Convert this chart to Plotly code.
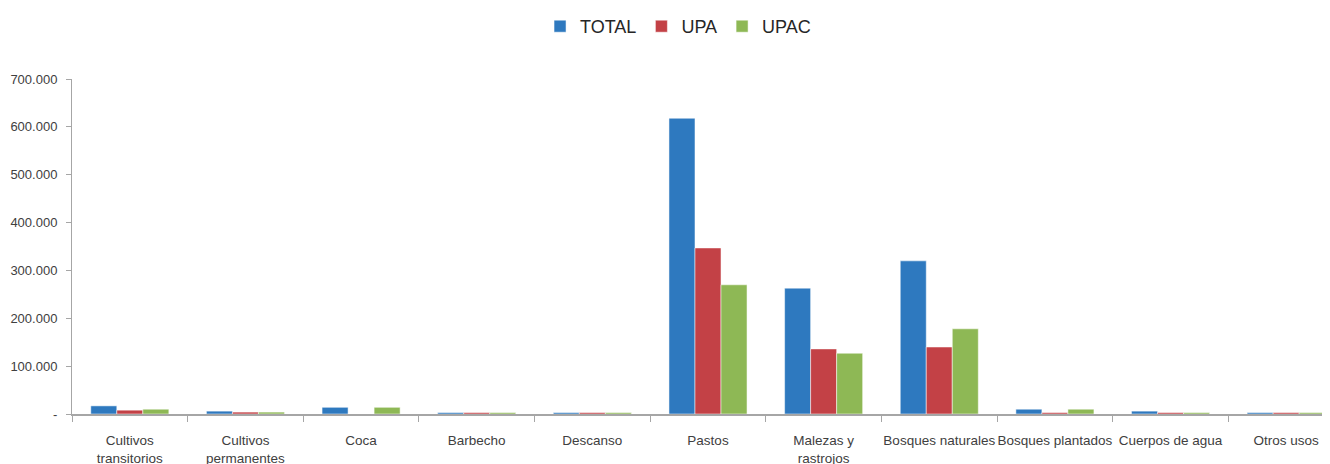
import plotly.graph_objects as go

categorias = ['Cultivos<br>transitorios', 'Cultivos<br>permanentes', 'Coca', 'Barbecho', 'Descanso',
              'Pastos', 'Malezas y<br>rastrojos', 'Bosques naturales', 'Bosques plantados',
              'Cuerpos de agua', 'Otros usos']
total = [17000, 6000, 14000, 3000, 3000, 618000, 263000, 320000, 10000, 6000, 3000]
upa = [8000, 4000, 0, 3000, 3000, 347000, 136000, 140000, 3000, 3000, 3000]
upac = [10000, 4000, 14000, 3000, 3000, 270000, 127000, 178000, 10000, 3000, 3000]
ytick_vals = [0, 100000, 200000, 300000, 400000, 500000, 600000, 700000]
ytick_text = ['-', '100.000', '200.000', '300.000', '400.000', '500.000', '600.000', '700.000']

series = [('TOTAL', total, '#2e79bf'), ('UPA', upa, '#c34146'), ('UPAC', upac, '#8eb855')]

fig = go.Figure()
for name, vals, color in series:
    fig.add_trace(go.Bar(x=categorias, y=vals, name=name, marker_color=color,
                         marker_line=dict(color='rgba(255,255,255,0.5)', width=1)))

# plot area runs a little past the right edge of the window, as in the original (cropped) image
fig.update_layout(
    width=1346, height=464, plot_bgcolor='white', paper_bgcolor='white',
    barmode='group', bargap=0.325, bargroupgap=0,
    margin=dict(l=64, r=10, t=71, b=58),
    font=dict(family='Liberation Sans, Arial', color='#404040'),
    legend=dict(orientation='h', xref='container', yref='container', x=0.4978, y=1.0,
                xanchor='center', yanchor='top', font=dict(size=18, color='#262626'),
                itemwidth=30, traceorder='normal'),
)
fig.update_xaxes(showgrid=False, showline=True, linecolor='#a6a6a6', linewidth=2,
                 ticks='outside', tickson='boundaries', ticklen=6, tickcolor='#a6a6a6',
                 tickfont=dict(size=13.5), tickangle=0, automargin=False, ticklabelstandoff=13)
fig.update_yaxes(range=[0, 700000], showgrid=False, showline=True, linecolor='#a6a6a6', linewidth=1,
                 ticks='outside', ticklen=5, tickcolor='#a6a6a6', zeroline=False, automargin=False,
                 tickvals=ytick_vals, ticktext=ytick_text, tickfont=dict(size=13), ticklabelstandoff=6)

fig.write_html('out.html')
